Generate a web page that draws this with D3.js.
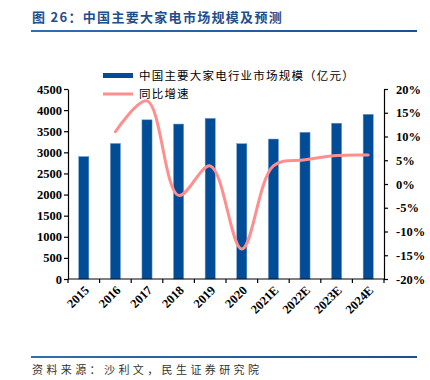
<!DOCTYPE html>
<html><head><meta charset="utf-8">
<script src="https://cdn.jsdelivr.net/npm/d3@7/dist/d3.min.js"></script>
<style>body{margin:0;background:#fff}svg{display:block}</style>
</head><body>
<svg id="c" width="430" height="380"></svg>
<script>
const categories = ["2015","2016","2017","2018","2019","2020","2021E","2022E","2023E","2024E"];
const marketSize = [2900,3210,3770,3670,3805,3205,3315,3475,3690,3900];
const growthRate = [null,11.0,17.5,-2.4,3.8,-13.7,3.8,5.1,6.0,6.1];
const leftTicks = [0,500,1000,1500,2000,2500,3000,3500,4000,4500];
const rightTicks = [-20,-15,-10,-5,0,5,10,15,20];
const titleText = "图 26：中国主要大家电市场规模及预测";
const legendLabels = ["中国主要大家电行业市场规模（亿元）","同比增速"];
const sourceText = "资料来源：沙利文，民生证券研究院";

const svg = d3.select("#c");
const L = 68, R = 384, T = 89, B = 279;
const blue = "#004C97", pink = "#FF8F8F", titleBlue = "#1F4E8C";
const cjk = "'Noto Sans CJK SC', sans-serif";
const serif = "'Liberation Serif', 'Times New Roman', serif";

// Title
svg.append("text").attr("x", 32).attr("y", 22).text(titleText)
  .attr("font-family", cjk).attr("font-size", 13).attr("font-weight", "bold")
  .attr("letter-spacing", 1.3).attr("fill", titleBlue);
const grad = svg.append("defs").append("linearGradient").attr("id","g1");
grad.append("stop").attr("offset","0%").attr("stop-color","#2F6DB5");
grad.append("stop").attr("offset","100%").attr("stop-color","#1A4F93");
svg.append("rect").attr("x",31).attr("y",30).attr("width",386).attr("height",2).attr("fill","url(#g1)");
svg.append("rect").attr("x",31).attr("y",356).attr("width",386).attr("height",2).attr("fill","url(#g1)");
svg.append("text").attr("x", 32).attr("y", 374).text(sourceText)
  .attr("font-family", cjk).attr("font-size", 11).attr("letter-spacing", 3.4).attr("fill", "#333");

const x = d3.scaleBand().domain(categories).range([L, R]).paddingInner(0.68).paddingOuter(0.34);
const xc = d => x(d) + x.bandwidth()/2;
const yL = d3.scaleLinear().domain([0,4500]).range([B, T]);
const yR = d3.scaleLinear().domain([-20,20]).range([B, T]);

// Bars
svg.append("g").selectAll("rect").data(categories).join("rect")
  .attr("x", d => x(d)).attr("width", x.bandwidth())
  .attr("y", (d,i) => yL(marketSize[i])).attr("height", (d,i) => B - yL(marketSize[i]))
  .attr("fill", blue).attr("stroke", "#6F9BCB").attr("stroke-width", 0.5);

// Line
const pts = categories.map((c,i)=>[xc(c), growthRate[i]]).filter(p=>p[1]!==null);
svg.append("path").datum(pts)
  .attr("d", d3.line().x(p=>p[0]).y(p=>yR(p[1])).curve(d3.curveCatmullRom.alpha(0.5)))
  .attr("fill","none").attr("stroke",pink).attr("stroke-width",3).attr("stroke-linecap","round");

// Axes
function styleAxis(g){
  g.selectAll("path,line").attr("stroke","#000").attr("stroke-width",1.2);
  g.selectAll("text").attr("font-family",serif).attr("font-weight","bold").attr("font-size",12.5).attr("fill","#000");
}
const gl = svg.append("g").attr("transform",`translate(${L},0)`)
  .call(d3.axisLeft(yL).tickValues(leftTicks).tickFormat(d3.format("d")).tickSize(4).tickSizeOuter(0).tickPadding(2));
styleAxis(gl);
const gr = svg.append("g").attr("transform",`translate(${R},0)`)
  .call(d3.axisRight(yR).tickValues(rightTicks).tickFormat(d=>d+"%").tickSize(4).tickSizeOuter(0).tickPadding(8));
styleAxis(gr);

// X axis
const gx = svg.append("g").attr("transform",`translate(0,${B})`);
gx.append("line").attr("x1",L).attr("x2",R).attr("stroke","#000").attr("stroke-width",1.2);
const bounds = d3.range(categories.length+1).map(i => L + i*(R-L)/categories.length);
gx.selectAll("line.t").data(bounds).join("line").attr("class","t")
  .attr("x1",d=>d).attr("x2",d=>d).attr("y1",0).attr("y2",4).attr("stroke","#000").attr("stroke-width",1.2);
gx.selectAll("text").data(categories).join("text")
  .attr("transform", d => `translate(${xc(d)+6},${12}) rotate(-45)`)
  .attr("text-anchor","end").text(d=>d)
  .attr("font-family",serif).attr("font-weight","bold").attr("font-size",12.5);

// Legend
svg.append("rect").attr("x",103).attr("y",73).attr("width",30).attr("height",5).attr("fill",blue);
svg.append("text").attr("x",139).attr("y",80).text(legendLabels[0])
  .attr("font-family",cjk).attr("font-size",11.5).attr("letter-spacing",1.2).attr("fill","#000");
svg.append("line").attr("x1",103).attr("x2",133).attr("y1",94).attr("y2",94)
  .attr("stroke",pink).attr("stroke-width",3);
svg.append("text").attr("x",139).attr("y",98).text(legendLabels[1])
  .attr("font-family",cjk).attr("font-size",11.5).attr("letter-spacing",1.2).attr("fill","#000");
</script>
</body></html>
